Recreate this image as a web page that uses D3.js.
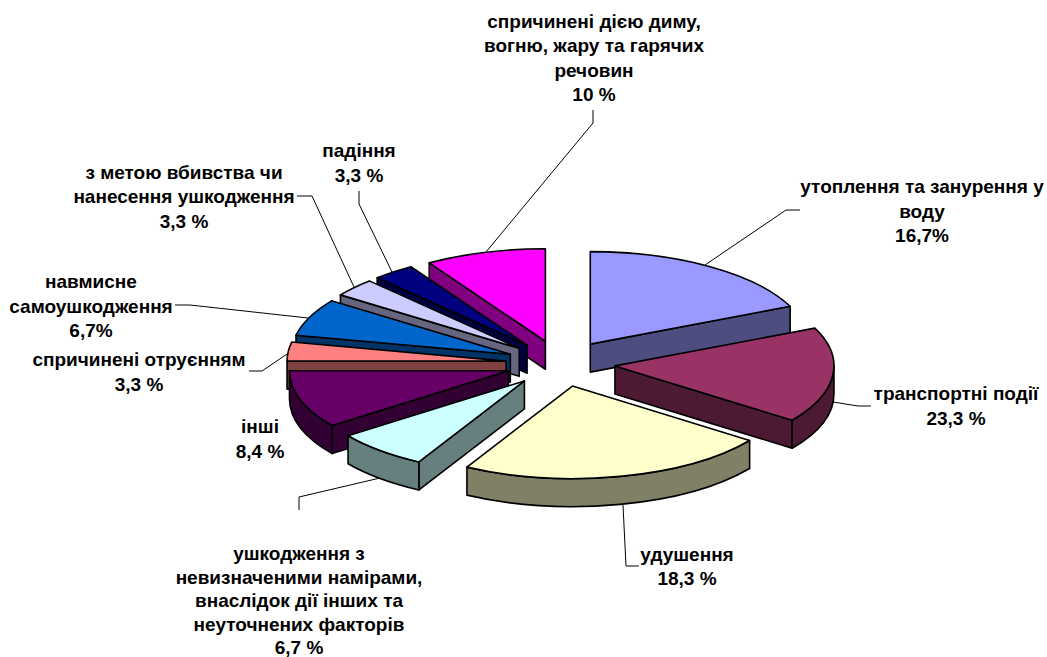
<!DOCTYPE html>
<html>
<head>
<meta charset="utf-8">
<script src="https://cdn.jsdelivr.net/npm/d3@7"></script>
<style>
  html, body { margin: 0; background: #fff; }
  text { font-family: "Liberation Sans", Arial, sans-serif; font-weight: bold; font-size: 19px; fill: #000; }
</style>
</head>
<body>
<div id="chart"></div>
<script>
// slice sizes as drawn, clockwise from 12 o'clock
const sliceValues = [18.3, 16.7, 23.0, 6.9, 10.1, 3.3, 6.5, 3.2, 3.1, 8.9];
const sliceColors = ["#9999FF", "#993366", "#FFFFCC", "#CCFFFF", "#660066",
                     "#FF8080", "#0066CC", "#CCCCFF", "#000080", "#FF00FF"];

// label text, one entry per slice
const labelLines = [
    ["утоплення та занурення у", "воду", "16,7%"],
    ["транспортні події", "23,3 %"],
    ["удушення", "18,3 %"],
    ["ушкодження з", "невизначеними намірами,", "внаслідок дії інших та", "неуточнених факторів", "6,7 %"],
    ["інші", "8,4 %"],
    ["спричинені отруєнням", "3,3 %"],
    ["навмисне", "самоушкодження", "6,7%"],
    ["з метою вбивства чи", "нанесення ушкодження", "3,3 %"],
    ["падіння", "3,3 %"],
    ["спричинені дією диму,", "вогню, жару та гарячих", "речовин", "10 %"]
];

// label placement: centre x, first baseline, line step
const labelPos = [
    [922, 193, 24.5], [956, 400, 24.5], [687, 561, 24], [299, 560, 23.5], [260, 433, 25],
    [139, 366, 24.5], [91, 288, 24.5], [184, 179, 24.3], [359, 157, 24.5], [594, 28, 24.3]
];

// leader lines, label end first
const leaders = [
    [[800, 210], [786, 210], [705, 265]],
    [[871, 406], [858, 406], [833, 402]],
    [[639, 566], [626, 566], [623, 505]],
    [[299, 510], [299, 497], [380, 478]],
    [],
    [[249, 371], [262, 371], [287, 354]],
    [[175, 305], [190, 305], [308, 318]],
    [[297, 196], [312, 196], [354, 287]],
    [[359, 191], [359, 204], [392, 272]],
    [[593, 110], [593, 123], [486, 252]]
];

const width = 1047, height = 657;
const cx = 560.5, cy = 363.5;
const rx = 219, ry = 92.5;   // ellipse of the top face
const depth = 28;            // wall height
const explode = 0.25;

const x = d3.scaleLinear().domain([-1, 1]).range([cx - rx, cx + rx]);
const y = d3.scaleLinear().domain([-1, 1]).range([cy - ry, cy + ry]);

const pie = d3.pie().sort(null).value(d => d);
const slices = pie(sliceValues).map((d, i) => {
    const mid = (d.startAngle + d.endAngle) / 2;
    return {
        a0: d.startAngle,
        a1: d.endAngle,
        ox: explode * Math.sin(mid),
        oz: -explode * Math.cos(mid),
        color: sliceColors[i]
    };
});

// point of a slice on its rim (r = 1) or apex (r = 0), dz pixels lower
function pt(s, a, r, dz = 0) {
    return [x(s.ox + r * Math.sin(a)), y(s.oz - r * Math.cos(a)) + dz];
}

function topPath(s) {
    const c = pt(s, 0, 0), p0 = pt(s, s.a0, 1), p1 = pt(s, s.a1, 1);
    const large = s.a1 - s.a0 > Math.PI ? 1 : 0;
    return `M${c}L${p0}A${rx},${ry} 0 ${large} 1 ${p1}Z`;
}

function radialWall(s, a) {
    return `M${pt(s, 0, 0)}L${pt(s, a, 1)}L${pt(s, a, 1, depth)}L${pt(s, 0, 0, depth)}Z`;
}

function arcWall(s, a0, a1) {
    return `M${pt(s, a0, 1)}A${rx},${ry} 0 0 1 ${pt(s, a1, 1)}` +
           `L${pt(s, a1, 1, depth)}A${rx},${ry} 0 0 0 ${pt(s, a0, 1, depth)}Z`;
}

const svg = d3.select("#chart")
    .append("svg")
    .attr("width", width)
    .attr("height", height)
    .style("display", "block");

// leaders go under the pie
svg.append("g")
    .selectAll("path")
    .data(leaders.filter(d => d.length))
    .join("path")
    .attr("d", d3.line())
    .attr("fill", "none")
    .attr("stroke", "#000")
    .attr("stroke-width", 1);

// paint back to front
const ordered = slices.slice().sort((a, b) => a.oz - b.oz);
const pieG = svg.append("g")
    .attr("stroke", "#000")
    .attr("stroke-width", 1.6)
    .attr("stroke-linejoin", "round");

ordered.forEach(s => {
    const g = pieG.append("g");
    const c = d3.rgb(s.color);
    const wall = d3.rgb(c.r / 2, c.g / 2, c.b / 2).formatHex();

    // radial walls that face the viewer
    if (Math.sin(s.a0) < -1e-6) g.append("path").attr("d", radialWall(s, s.a0)).attr("fill", wall);
    if (Math.sin(s.a1) > 1e-6) g.append("path").attr("d", radialWall(s, s.a1)).attr("fill", wall);

    // outer wall, front half only
    const from = Math.max(s.a0, Math.PI / 2);
    const to = Math.min(s.a1, 3 * Math.PI / 2);
    if (to > from) g.append("path").attr("d", arcWall(s, from, to)).attr("fill", wall);

    g.append("path").attr("d", topPath(s)).attr("fill", s.color);
});

// labels
labelLines.forEach((lines, i) => {
    const [lx, ly, step] = labelPos[i];
    svg.append("text")
        .attr("text-anchor", "middle")
        .selectAll("tspan")
        .data(lines)
        .join("tspan")
        .attr("x", lx)
        .attr("y", (d, j) => ly + j * step)
        .text(d => d);
});
</script>
</body>
</html>
